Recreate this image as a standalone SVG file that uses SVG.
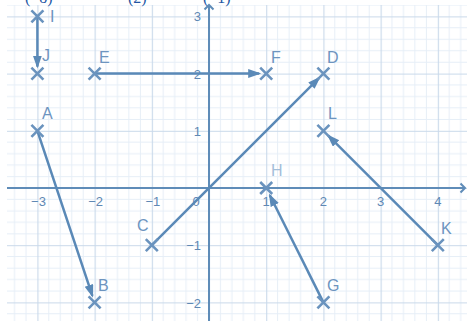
<svg xmlns="http://www.w3.org/2000/svg" width="467" height="321" viewBox="0 0 467 321">
<style>
.lbl{font-family:"Liberation Sans",Arial,sans-serif;font-size:16px;fill:#6d94bf}
.num{font-family:"Liberation Sans",Arial,sans-serif;font-size:13px;fill:#5f88b4}
.top{font-family:"Liberation Serif","Times New Roman",serif;font-size:16px;fill:#2356a3}
.vec{stroke:#5a89b7;stroke-width:2.5;fill:none;marker-end:url(#ah)}
.cross{stroke:#6a93be;stroke-width:2.6;fill:none}
.axis{stroke:#5f8cb8;stroke-width:2;fill:none}
</style>
<defs>
<pattern id="grid" patternUnits="userSpaceOnUse" x="209" y="188" width="57.2" height="57.2">
<path d="M11.44 0V57.2M22.88 0V57.2M34.32 0V57.2M45.76 0V57.2M0 11.44H57.2M0 22.88H57.2M0 34.32H57.2M0 45.76H57.2" stroke="#e6eef7" stroke-width="1"/>
<path d="M0.5 0V57.2M0 0.5H57.2" stroke="#c9d9ea" stroke-width="1.2"/>
</pattern>
<marker id="ah" markerUnits="userSpaceOnUse" markerWidth="14" markerHeight="10" refX="11" refY="4.5" orient="auto">
<path d="M0 0L13 4.5L0 9Z" fill="#5a89b7"/>
</marker>
</defs>
<rect x="0" y="0" width="467" height="321" fill="#ffffff"/>
<rect x="7" y="5" width="460" height="316" fill="url(#grid)"/>
<text class="top" x="25" y="2.5">(−8)</text>
<text class="top" x="128" y="2.5">(2)</text>
<text class="top" x="203" y="2.5">(−1)</text>
<g id="axes">
<path class="axis" d="M7 188H465M209 321V5"/>
<path class="axis" d="M460.5 183.5L465 188L460.5 192.5M204.5 9.5L209 5L213.5 9.5"/>
<g class="num" text-anchor="middle">
<text x="38.5" y="206">−3</text>
<text x="95.6" y="206">−2</text>
<text x="152.8" y="206">−1</text>
<text x="196" y="206">0</text>
<text x="266.2" y="206">1</text>
<text x="323.4" y="206">2</text>
<text x="380.6" y="206">3</text>
<text x="437.8" y="206">4</text>
</g>
<g class="num" text-anchor="end">
<text x="201" y="21">3</text>
<text x="201" y="78.5">2</text>
<text x="201" y="136">1</text>
<text x="201" y="250">−1</text>
<text x="201" y="307.5">−2</text>
</g>
</g>
<g id="connectors">
<line class="vec" x1="37.4" y1="16.4" x2="37.4" y2="66.6"/>
<line class="vec" x1="94.6" y1="73.6" x2="259.2" y2="73.6"/>
<line class="vec" x1="151.8" y1="245.2" x2="319.2" y2="77.8"/>
<line class="vec" x1="37.4" y1="130.8" x2="92.4" y2="295.8"/>
<line class="vec" x1="323.4" y1="302.4" x2="269.8" y2="195.2"/>
<line class="vec" x1="437.8" y1="245.2" x2="328.3" y2="135.7"/>
</g>
<g id="I"><path class="cross" d="M31.4 10.4l12 12M43.4 10.4l-12 12"/><text class="lbl" x="50" y="22">I</text></g>
<g id="J"><path class="cross" d="M31.4 67.6l12 12M43.4 67.6l-12 12"/><text class="lbl" x="42" y="61">J</text></g>
<g id="E"><path class="cross" d="M88.6 67.6l12 12M100.6 67.6l-12 12"/><text class="lbl" x="99" y="63">E</text></g>
<g id="F"><path class="cross" d="M260.2 67.6l12 12M272.2 67.6l-12 12"/><text class="lbl" x="271" y="63">F</text></g>
<g id="D"><path class="cross" d="M317.4 67.6l12 12M329.4 67.6l-12 12"/><text class="lbl" x="327" y="63">D</text></g>
<g id="A"><path class="cross" d="M31.4 124.8l12 12M43.4 124.8l-12 12"/><text class="lbl" x="42" y="119">A</text></g>
<g id="L"><path class="cross" d="M317.4 124.8l12 12M329.4 124.8l-12 12"/><text class="lbl" x="328" y="119">L</text></g>
<g id="H"><path class="cross" d="M260.2 182l12 12M272.2 182l-12 12" stroke="#a3bed9"/><text class="lbl" x="271" y="176" fill="#a3bed9" style="fill:#a3bed9">H</text></g>
<g id="C"><path class="cross" d="M145.8 239.2l12 12M157.8 239.2l-12 12"/><text class="lbl" x="137" y="231">C</text></g>
<g id="K"><path class="cross" d="M431.8 239.2l12 12M443.8 239.2l-12 12"/><text class="lbl" x="441" y="234">K</text></g>
<g id="B"><path class="cross" d="M88.6 296.4l12 12M100.6 296.4l-12 12"/><text class="lbl" x="98" y="291">B</text></g>
<g id="G"><path class="cross" d="M317.4 296.4l12 12M329.4 296.4l-12 12"/><text class="lbl" x="327" y="291">G</text></g>
</svg>
